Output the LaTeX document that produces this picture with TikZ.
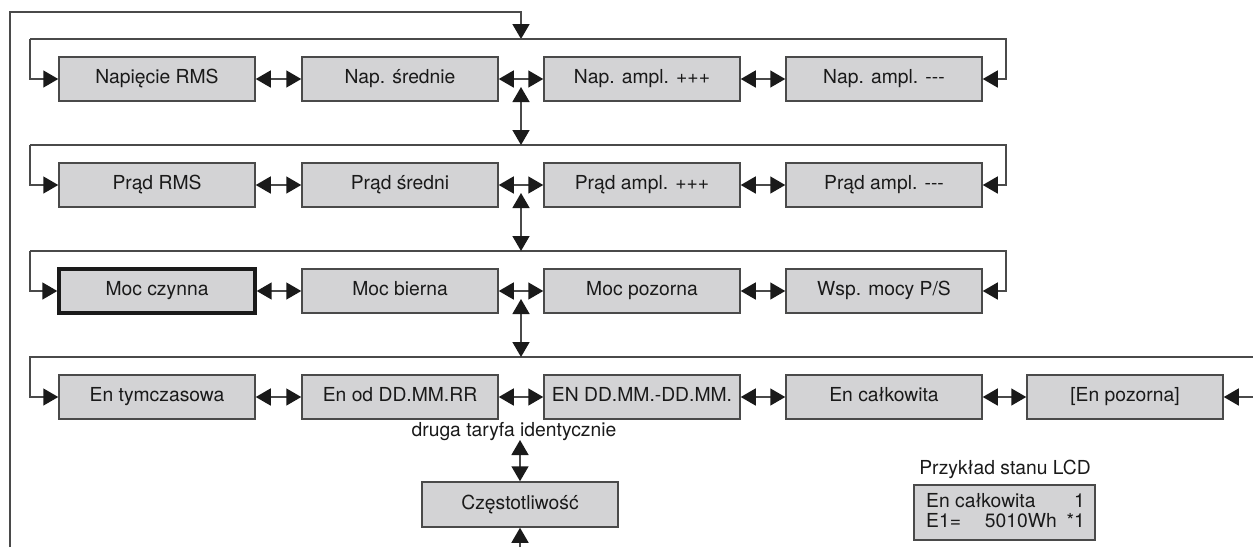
\documentclass[tikz,border=0pt]{standalone}
\usepackage{fontspec}
\setmainfont{TeX Gyre Heros}[Ligatures=TeXOff]
\usetikzlibrary{arrows.meta}
\definecolor{boxfill}{HTML}{D3D3D5}
\definecolor{linec}{HTML}{4A4A4A}
\definecolor{tipc}{HTML}{1A1A1A}
\begin{document}
\begin{tikzpicture}[x=1pt,y=-1pt,
  txt/.style={font=\fontsize{19.3}{23}\selectfont, text=tipc, inner sep=0pt, text height=13.9pt, text depth=4pt},
  mbox/.style={txt, draw=linec, line width=1.5pt, fill=boxfill, minimum width=196pt, minimum height=44pt},
  sel/.style={draw=tipc, line width=3.4pt},
  conn/.style={draw=linec, line width=1.5pt},
  tip/.style={-{Triangle[length=15pt,width=17pt,color=tipc]}},
  dtip/.style={{Triangle[length=15pt,width=17pt,color=tipc]}-{Triangle[length=15pt,width=17pt,color=tipc]}},
]
\useasboundingbox (0,0) rectangle (1253,547);

% row 1
\node[mbox] (n11) at (157,79) {Napięcie RMS};
\node[mbox] (n12) at (400,79) {Nap. średnie};
\node[mbox] (n13) at (642,79) {Nap. ampl. +++};
\node[mbox] (n14) at (884,79) {Nap. ampl. ---};
% row 2
\node[mbox] (n21) at (157,185) {Prąd RMS};
\node[mbox] (n22) at (400,185) {Prąd średni};
\node[mbox] (n23) at (642,185) {Prąd ampl. +++};
\node[mbox] (n24) at (884,185) {Prąd ampl. ---};
% row 3
\node[mbox,sel] (n31) at (157,291) {Moc czynna};
\node[mbox] (n32) at (400,291) {Moc bierna};
\node[mbox] (n33) at (642,291) {Moc pozorna};
\node[mbox] (n34) at (884,291) {Wsp. mocy P/S};
% row 4
\node[mbox] (n41) at (157,397) {En tymczasowa};
\node[mbox] (n42) at (400,397) {En od DD.MM.RR};
\node[mbox] (n43) at (642,397) {EN DD.MM.-DD.MM.};
\node[mbox] (n44) at (884,397) {En całkowita};
\node[mbox] (n45) at (1125,397) {[En pozorna]};

\node[txt] (dr) at (514,432) {druga taryfa identycznie};
\node[mbox, minimum height=45pt] (cz) at (520,504.5) {Częstotliwość};

% LCD example
\node[txt] (lt) at (1005,470) {Przykład stanu LCD};
\node[draw=linec, line width=1.5pt, fill=boxfill, minimum width=181pt, minimum height=55pt, inner sep=0pt] (lcd) at (1004.5,512.5) {};
\node[txt, anchor=west] (la) at (926,503) {En całkowita};
\node[txt, anchor=east] (lb) at (1085,503) {1};
\node[txt, anchor=west] (lc) at (926,523) {E1=};
\node[txt, anchor=east] (ld) at (1057,523) {5010Wh};
\node[txt, anchor=east] (le) at (1085,523) {*1};

% coordinates
\coordinate (f0) at (10,547);
\coordinate (f1) at (10,12);
\coordinate (f2) at (521,12);
\foreach \r/\ly in {1/39,2/145,3/251} {
  \coordinate (l\r L) at (30,\ly);
  \coordinate (l\r R) at (1006,\ly);
  \coordinate (l\r M) at (521,\ly);
}
\coordinate (l4L) at (30,357);
\coordinate (l4R) at (1253,357);
\coordinate (l4M) at (521,357);
\coordinate (r4) at (1253,397);
\coordinate (u1) at (521,87);
\coordinate (u2) at (521,193);
\coordinate (u3) at (521,299);
\coordinate (cu) at (520,440);
\coordinate (cb) at (520,547);

% outer frame
\draw[conn, line width=1.8pt, tip] (f0) -- (f1) -- (f2) -- (l1M);

% loops rows 1-3
\foreach \r in {1,2,3} {
  \draw[conn, tip] (l\r L) |- (n\r1.west);
  \draw[conn, tip] (l\r L) -- (l\r R) |- (n\r4.east);
}
% loop row 4
\draw[conn, tip] (l4R) -- (l4L) |- (n41.west);
\draw[conn, tip] (r4) -- (n45.east);

% horizontal double arrows
\foreach \r in {1,2,3,4} {
  \draw[conn, dtip] (n\r1.east) -- (n\r2.west);
  \draw[conn, dtip] (n\r2.east) -- (n\r3.west);
  \draw[conn, dtip] (n\r3.east) -- (n\r4.west);
}
\draw[conn, dtip] (n44.east) -- (n45.west);

% vertical double arrows
\draw[conn, dtip] (u1) -- (l2M);
\draw[conn, dtip] (u2) -- (l3M);
\draw[conn, dtip] (u3) -- (l4M);
\draw[conn, dtip] (cu) -- (cz.north);
\draw[conn, tip] (cb) -- (cz.south);
\end{tikzpicture}
\end{document}
